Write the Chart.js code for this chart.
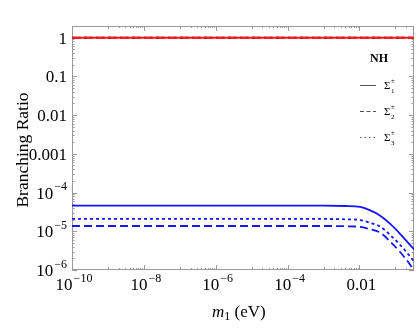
<!DOCTYPE html>
<html>
<head>
<meta charset="utf-8">
<script src="https://cdn.jsdelivr.net/npm/chart.js@4/dist/chart.umd.min.js"></script>
<style>
  html, body { margin: 0; padding: 0; background: #fff; }
  #wrap { width: 417px; height: 328px; }
</style>
</head>
<body>
<div id="wrap"><canvas id="brChart" width="417" height="328"></canvas></div>
<script>
// values
const massValues = [1e-10, 1e-3, 4e-3, 0.0105, 0.0185, 0.038, 0.072, 0.137, 0.26, 0.33];
const sigma1Values = [4.6e-5, 4.6e-5, 4.5e-5, 4.26e-5, 3.56e-5, 2.53e-5, 1.55e-5, 8.5e-6, 4.4e-6, 3.4e-6];
const sigma2Values = [1.37e-5, 1.37e-5, 1.35e-5, 1.3e-5, 1.15e-5, 9.2e-6, 5.4e-6, 2.87e-6, 1.35e-6, 0.95e-6];
const sigma3Values = [2.08e-5, 2.08e-5, 2.04e-5, 1.95e-5, 1.68e-5, 1.32e-5, 8.0e-6, 4.4e-6, 2.2e-6, 1.64e-6];
const redMass = [1e-10, 0.33];
const redValues = [1, 1];

const yTickValues = [1, 0.1, 0.01, 0.001, 1e-4, 1e-5, 1e-6];
const yTickLabels = [['1', ''], ['0.1', ''], ['0.01', ''], ['0.001', ''], ['10', '\u22124'], ['10', '\u22125'], ['10', '\u22126']];
const xTickValues = [1e-10, 1e-8, 1e-6, 1e-4, 0.01];
const xTickLabels = [['10', '\u221210'], ['10', '\u22128'], ['10', '\u22126'], ['10', '\u22124'], ['0.01', '']];
const legendNames = ['1', '2', '3'];

const SERIF = '"Liberation Serif", "Times New Roman", serif';
const BLUE = '#1414ff';
const RED = '#f01818';

function points(xs, ys) {
    return xs.map((x, i) => ({ x: x, y: ys[i] }));
}

function lineSet(label, xs, ys, color, dash, width) {
    return {
        label: label,
        data: points(xs, ys),
        borderColor: color,
        borderWidth: width,
        borderDash: dash,
        pointRadius: 0,
        fill: false,
        cubicInterpolationMode: 'monotone'
    };
}

// base text plus a superscript, aligned as a group
function drawPowLabel(ctx, base, sup, x, y, align) {
    ctx.font = '17px ' + SERIF;
    const wb = ctx.measureText(base).width;
    ctx.font = '12px ' + SERIF;
    const ws = sup ? ctx.measureText(sup).width + 1 : 0;
    const total = wb + ws;
    let left = x;
    if (align === 'right') left = x - total;
    if (align === 'center') left = x - total / 2;
    ctx.textAlign = 'left';
    ctx.textBaseline = 'middle';
    ctx.font = '17px ' + SERIF;
    ctx.fillText(base, left, y);
    if (sup) {
        ctx.font = '12px ' + SERIF;
        ctx.fillText(sup, left + wb + 1, y - 7);
    }
}

const framePlugin = {
    id: 'frame',
    beforeDatasetsDraw(chart) {
        const ctx = chart.ctx;
        const a = chart.chartArea;
        const xs = chart.scales.x;
        const ys = chart.scales.y;
        ctx.save();
        ctx.strokeStyle = '#9a9a9a';
        ctx.lineWidth = 1;
        ctx.strokeRect(a.left + 0.5, a.top + 0.5, a.right - a.left - 1, a.bottom - a.top - 1);

        function tickY(v, len) {
            const p = Math.round(ys.getPixelForValue(v)) + 0.5;
            ctx.beginPath();
            ctx.moveTo(a.left, p); ctx.lineTo(a.left + len, p);
            ctx.moveTo(a.right, p); ctx.lineTo(a.right - len, p);
            ctx.stroke();
        }
        function tickX(v, len) {
            const p = Math.round(xs.getPixelForValue(v)) + 0.5;
            ctx.beginPath();
            ctx.moveTo(p, a.bottom); ctx.lineTo(p, a.bottom - len);
            ctx.moveTo(p, a.top); ctx.lineTo(p, a.top + len);
            ctx.stroke();
        }
        for (let e = -6; e <= 0; e++) {
            tickY(Math.pow(10, e), 5);
            for (let k = 2; k <= 9; k++) {
                const v = k * Math.pow(10, e);
                if (v <= ys.max) tickY(v, 2.5);
            }
        }
        xTickValues.forEach(v => tickX(v, 5));
        for (let e = -9; e <= -1; e += 2) {
            for (let k = 1; k <= 9; k++) {
                const v = k * Math.pow(10, e);
                if (v <= xs.max) tickX(v, k === 1 ? 3 : 2);
            }
        }
        ctx.restore();
    },
    afterDraw(chart) {
        const ctx = chart.ctx;
        const a = chart.chartArea;
        const xs = chart.scales.x;
        const ys = chart.scales.y;
        ctx.save();
        ctx.fillStyle = '#000';

        yTickValues.forEach((v, i) => {
            drawPowLabel(ctx, yTickLabels[i][0], yTickLabels[i][1], a.left - 5, ys.getPixelForValue(v) + 1.5, 'right');
        });
        xTickValues.forEach((v, i) => {
            drawPowLabel(ctx, xTickLabels[i][0], xTickLabels[i][1], xs.getPixelForValue(v) + 2, a.bottom + 16, 'center');
        });

        // x axis title: m1 (eV)
        ctx.textBaseline = 'middle';
        ctx.textAlign = 'left';
        ctx.font = 'italic 17px ' + SERIF;
        let tx = 212;
        ctx.fillText('m', tx, 313);
        tx += ctx.measureText('m').width;
        ctx.font = '12px ' + SERIF;
        ctx.fillText('1', tx, 317);
        tx += ctx.measureText('1').width;
        ctx.font = '17px ' + SERIF;
        ctx.fillText(' (eV)', tx, 313);

        // y axis title
        ctx.save();
        ctx.translate(23, 150);
        ctx.rotate(-Math.PI / 2);
        ctx.textAlign = 'center';
        ctx.font = '17.5px ' + SERIF;
        ctx.fillText('Branching Ratio', 0, 0);
        ctx.restore();

        // legend
        ctx.textAlign = 'center';
        ctx.font = 'bold 12px ' + SERIF;
        ctx.fillText('NH', 379, 59);
        const dashes = [[], [4, 2.5], [1.5, 3]];
        const rows = [86, 112, 138];
        rows.forEach((ry, i) => {
            ctx.strokeStyle = '#555';
            ctx.lineWidth = 1;
            ctx.setLineDash(dashes[i]);
            ctx.beginPath();
            ctx.moveTo(360, ry - 0.5);
            ctx.lineTo(376, ry - 0.5);
            ctx.stroke();
            ctx.setLineDash([]);
            ctx.textAlign = 'left';
            ctx.font = '11px ' + SERIF;
            ctx.fillText('\u03A3', 384, ry);
            ctx.font = '7px ' + SERIF;
            ctx.fillText('\u00B1', 391, ry - 5);
            ctx.fillText(legendNames[i], 391, ry + 5);
        });
        ctx.restore();
    }
};

const ctx = document.getElementById('brChart').getContext('2d');
const brChart = new Chart(ctx, {
    type: 'line',
    data: {
        datasets: [
            lineSet('red 1', redMass, redValues, RED, [], 2),
            lineSet('red 2', redMass, redValues, RED, [8, 4], 2),
            lineSet('red 3', redMass, redValues, RED, [3, 3], 2),
            lineSet('Sigma1', massValues, sigma1Values, BLUE, [], 1.8),
            lineSet('Sigma2', massValues, sigma2Values, BLUE, [8, 4], 1.8),
            lineSet('Sigma3', massValues, sigma3Values, BLUE, [3, 3], 1.8)
        ]
    },
    options: {
        responsive: false,
        animation: false,
        layout: {
            padding: { left: 72, right: 3, top: 26, bottom: 58 }
        },
        scales: {
            x: { type: 'logarithmic', min: 1e-10, max: 0.33, display: false },
            y: { type: 'logarithmic', min: 1e-6, max: 2, display: false }
        },
        plugins: {
            legend: { display: false },
            tooltip: { enabled: false }
        }
    },
    plugins: [framePlugin]
});
</script>
</body>
</html>
